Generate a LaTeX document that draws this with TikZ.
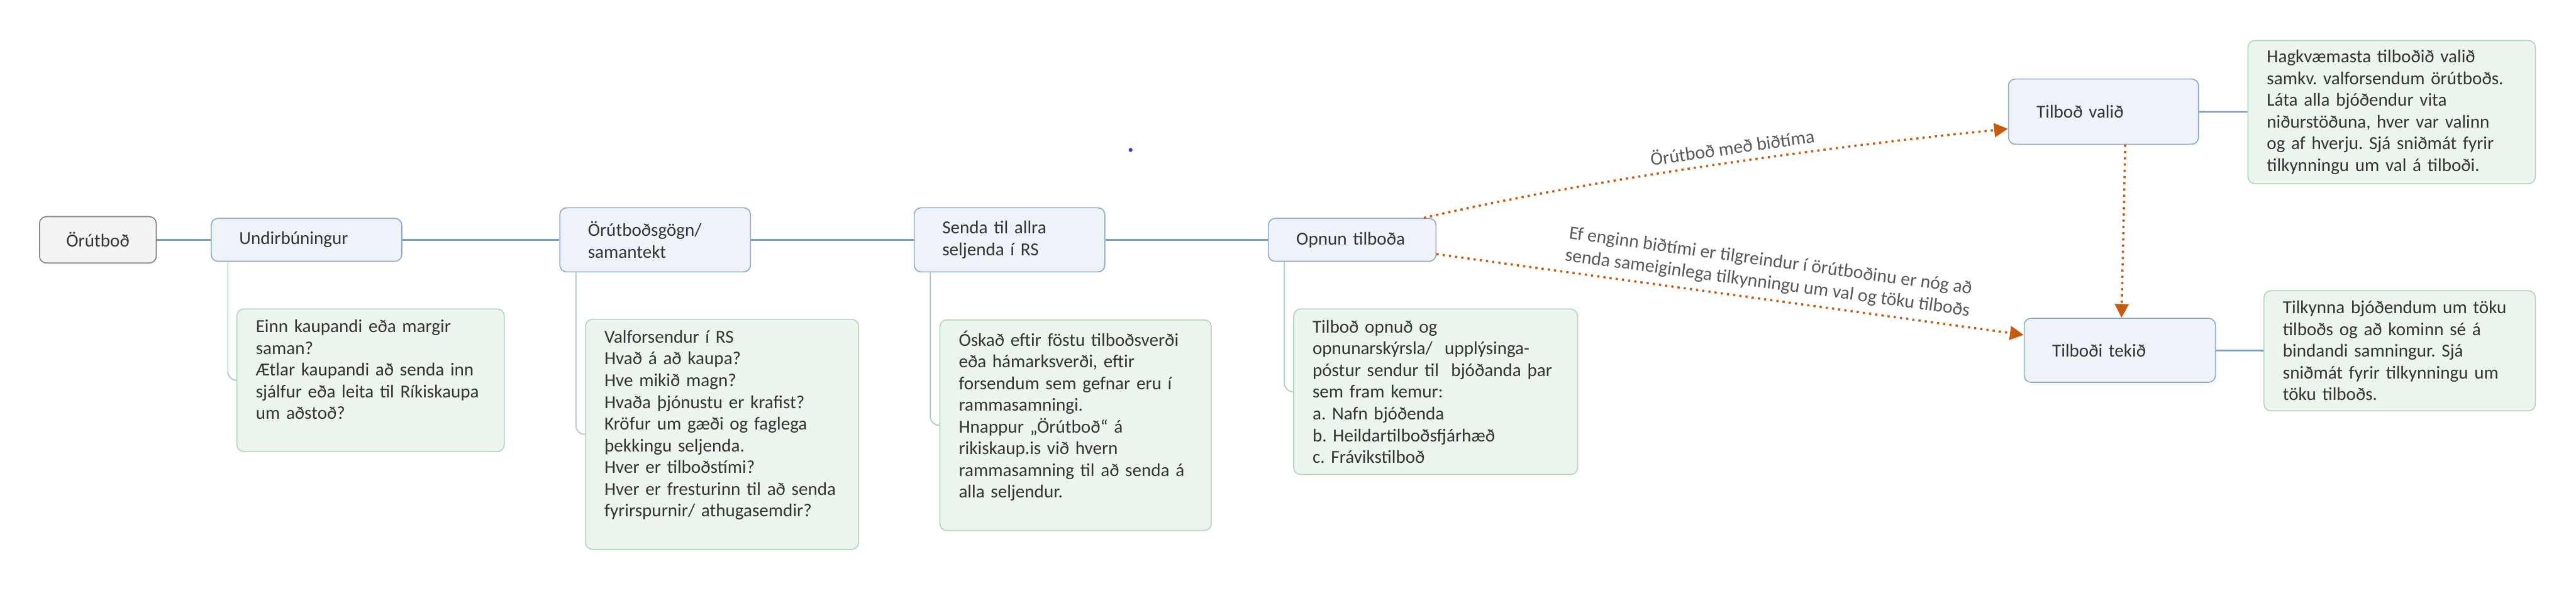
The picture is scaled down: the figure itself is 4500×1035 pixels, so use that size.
\documentclass[tikz,border=0pt]{standalone}
\usepackage{fontspec}
\setmainfont{Carlito}
\usetikzlibrary{arrows.meta}
\frenchspacing
\definecolor{txtc}{HTML}{333333}
\definecolor{rootfill}{HTML}{F3F3F3}
\definecolor{rootline}{HTML}{7F7F7F}
\definecolor{topfill}{HTML}{EEF3FA}
\definecolor{topline}{HTML}{8EA8C8}
\definecolor{notefill}{HTML}{EBF5EE}
\definecolor{noteline}{HTML}{B2D5BC}
\definecolor{linkc}{HTML}{7F9CB6}
\definecolor{leafc}{HTML}{A9C7C0}
\definecolor{flowc}{HTML}{C55A11}
\definecolor{flowtxtc}{HTML}{595959}
\definecolor{dotc}{HTML}{3A4BC8}
\begin{document}
\begin{tikzpicture}[x=0.1mm, y=-0.1mm,
    every node/.style={font=\fontsize{9.1}{10.8}\selectfont, text=txtc},
    rootbox/.style={draw=rootline, fill=rootfill, rounded corners=1.2mm, line width=0.5pt,
      minimum width=20.4mm, minimum height=8.1mm},
    topic/.style={draw=topline, fill=topfill, rounded corners=1.2mm, line width=0.5pt,
      align=left, inner xsep=4.9mm},
    note/.style={draw=noteline, fill=notefill, rounded corners=1.2mm, line width=0.5pt,
      align=left, inner xsep=3.3mm, anchor=north west},
    spine/.style={draw=linkc, line width=0.8pt},
    leaf/.style={draw=leafc, line width=0.5pt, rounded corners=1.5mm},
    flow/.style={draw=flowc, line width=1.1pt, dotted, -{Triangle[length=2.4mm,width=2.4mm]}},
    flowtxt/.style={text=flowtxtc, sloped, above, align=center, font=\fontsize{9.3}{11}\selectfont}]
    \useasboundingbox[fill=white] (0,0) rectangle (4500,1035);

    % main line
    \node[rootbox] (root) at (171,419) {Örútboð};
    \node[topic, text width=23.5mm, minimum height=7.5mm] (undir) at (535.5,419) {Undirbúningur};
    \node[topic, text width=23.5mm, minimum height=11.2mm] (gogn) at (1144.5,419) {Örútboðsgögn/\\samantekt};
    \node[topic, text width=23.5mm, minimum height=11.2mm] (senda) at (1763.5,419) {Senda til allra\\seljenda í RS};
    \node[topic, text width=19.5mm, minimum height=7.5mm] (opnun) at (2362,419) {Opnun tilboða};
    \node[topic, text width=23.4mm, minimum height=11.4mm] (valid) at (3674.5,195) {Tilboð valið};
    \node[topic, text width=23.6mm, minimum height=11.2mm] (tekid) at (3703,612) {Tilboði tekið};

    % notes
    \node[note, text width=40.1mm, minimum height=24.9mm] (n1) at (413,539)
      {Einn kaupandi eða margir\\saman?\\Ætlar kaupandi að senda inn\\sjálfur eða leita til Ríkiskaupa\\um aðstoð?\\\mbox{}};
    \node[note, text width=41.1mm, minimum height=40.2mm] (n2) at (1022,557)
      {Valforsendur í RS\\Hvað á að kaupa?\\Hve mikið magn?\\Hvaða þjónustu er krafist?\\Kröfur um gæði og faglega\\þekkingu seljenda.\\Hver er tilboðstími?\\Hver er fresturinn til að senda\\fyrirspurnir/ athugasemdir?\\\mbox{}};
    \node[note, text width=40.8mm, minimum height=36.8mm] (n3) at (1641,558)
      {Óskað eftir föstu tilboðsverði\\eða hámarksverði, eftir\\forsendum sem gefnar eru í\\rammasamningi.\\Hnappur „Örútboð“ á\\rikiskaup.is við hvern\\rammasamning til að senda á\\alla seljendur.\\\mbox{}};
    \node[note, text width=43mm, minimum height=28.9mm] (n4) at (2259,539)
      {Tilboð opnuð og\\opnunarskýrsla/~ upplýsinga-\\póstur sendur til~ bjóðanda þar\\sem fram kemur:\\a. Nafn bjóðenda\\b. Heildartilboðsfjárhæð\\c. Frávikstilboð};
    \node[note, text width=43.6mm, minimum height=25mm] (n5) at (3926,70)
      {Hagkvæmasta tilboðið valið\\samkv. valforsendum örútboðs.\\Láta alla bjóðendur vita\\niðurstöðuna, hver var valinn\\og af hverju. Sjá sniðmát fyrir\\tilkynningu um val á tilboði.};
    \node[note, text width=40.8mm, minimum height=21mm] (n6) at (3954,507)
      {Tilkynna bjóðendum um töku\\tilboðs og að kominn sé á\\bindandi samningur. Sjá\\sniðmát fyrir tilkynningu um\\töku tilboðs.};

    % connectors
    \draw[spine] (root) -- (undir);
    \draw[spine] (undir) -- (gogn);
    \draw[spine] (gogn) -- (senda);
    \draw[spine] (senda) -- (opnun);
    \draw[spine] (valid) -- (n5);
    \draw[spine] (tekid) -- (n6);
    \draw[leaf] ([xshift=3mm]undir.south west) |- (n1.west);
    \draw[leaf] ([xshift=2.9mm]gogn.south west) |- (n2.west);
    \draw[leaf] ([xshift=2.9mm]senda.south west) |- (n3.west);
    \draw[leaf] ([xshift=2.9mm]opnun.south west) |- (n4.west);

    % flow arrows
    \draw[flow] ([xshift=-2.2mm]opnun.north east) .. controls +(300,-70) and +(-300,30) .. ([yshift=-3mm]valid.west)
      node[flowtxt, pos=0.53] {Örútboð með biðtíma};
    \draw[flow] ([yshift=-2.5mm]opnun.east) -- ([yshift=2.7mm]tekid.west)
      node[flowtxt, pos=0.56] {Ef enginn biðtími er tilgreindur í örútboðinu er nóg að\\senda sameiginlega tilkynningu um val og töku tilboðs};
    \draw[flow] ([xshift=3.8mm]valid.south) -- ([xshift=0.3mm]tekid.north);

    \fill[dotc] (1975,262) circle (0.35mm);
\end{tikzpicture}
\end{document}
